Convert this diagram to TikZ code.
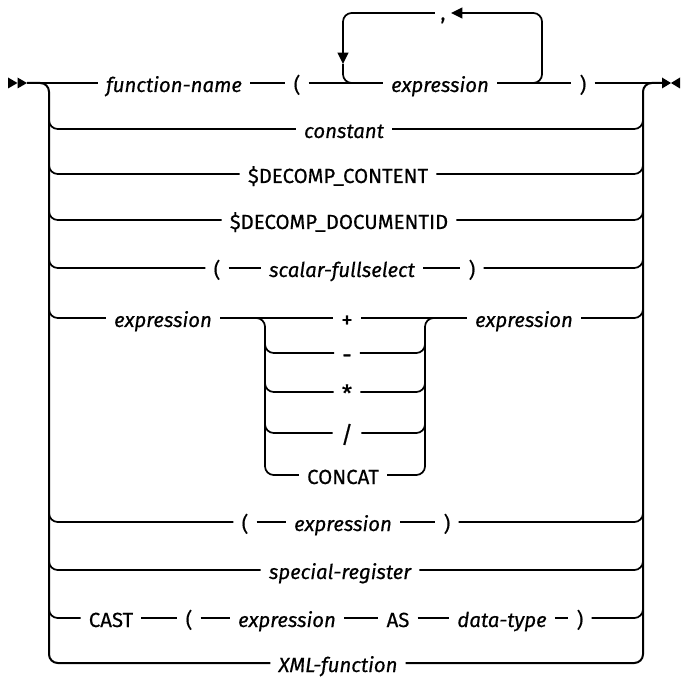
\documentclass[tikz,border=0pt]{standalone}
\usepackage{fontspec}
\setmainfont{Fira Sans}[FakeBold=0.5]
\usetikzlibrary{arrows.meta}
\begin{document}
\begin{tikzpicture}[x=0.75pt,y=-0.75pt,
  ln/.style={line width=1.3pt, rounded corners=6.5pt},
  rail/.style={line width=1.5pt, rounded corners=6.5pt},
  tx/.style={font=\fontsize{15.3}{18}\selectfont, inner xsep=6pt, inner ysep=0pt, text height=13.5pt, text depth=0pt},
  it/.style={tx, font=\fontsize{15.3}{18}\selectfont\itshape},
  op/.style={tx, font=\fontsize{17.5}{20}\selectfont, text height=14.5pt},
  arr/.style={-{Triangle[length=8.5pt,width=8pt]}},
]
\useasboundingbox (0,0) rectangle (682,677);
% rail coordinates
\coordinate (st) at (27,83);
\coordinate (en) at (662,83);
\coordinate (La) at (49,83);   \coordinate (Ra) at (643,83);
\coordinate (Lb) at (49,129);  \coordinate (Rb) at (643,129);
\coordinate (Lc) at (49,174);  \coordinate (Rc) at (643,174);
\coordinate (Ld) at (49,220);  \coordinate (Rd) at (643,220);
\coordinate (Le) at (49,268);  \coordinate (Re) at (643,268);
\coordinate (Lf) at (49,318);  \coordinate (Rf) at (643,318);
\coordinate (Lg) at (49,522);  \coordinate (Rg) at (643,522);
\coordinate (Lh) at (49,570);  \coordinate (Rh) at (643,570);
\coordinate (Li) at (49,618);  \coordinate (Ri) at (643,618);
\coordinate (Lj) at (49,663);  \coordinate (Rj) at (643,663);
% start / end markers
\fill (8,77.5) -- (17.5,83) -- (8,88.5) -- cycle;
\fill (17.5,77.5) -- (27,83) -- (17.5,88.5) -- cycle;
\fill (662,77.5) -- (671,83) -- (662,88.5) -- cycle;
\fill (680,77.5) -- (671,83) -- (680,88.5) -- cycle;
% row 1
\node[it] (fn) at (174,83) {function-name};
\node[tx] (lp1) at (297,83) {(};
\node[it] (ex1) at (440,83) {expression};
\node[tx] (rp1) at (583,83) {)};
\node[tx, text height=10.5pt, inner xsep=4pt] (cm) at (443,13) {,};
\coordinate (lpR) at (542,13);
\coordinate (dn) at (343,64);
\draw[ln] (st) -- (fn) -- (lp1) -- (ex1);
\draw[ln] (ex1) -- (rp1) -- (en);
\draw[ln,arr] (ex1.east) -| (lpR) -- (cm.east);
\draw[ln,arr] (cm.west) -| (dn);
\draw[ln] (dn) |- (ex1.west);
% rows 2-5
\node[it] (cst) at (344,129) {constant};
\node[tx] (dc) at (338,174) {\$DECOMP\_CONTENT};
\node[tx] (dd) at (339,220) {\$DECOMP\_DOCUMENTID};
\node[tx] (lp5) at (217,268) {(};
\node[it] (sfs) at (342,268) {scalar-fullselect};
\node[tx] (rp5) at (472,268) {)};
\draw[ln] ([yshift=12pt]Lb) |- (cst.west);
\draw[ln] (cst.east) -| ([yshift=12pt]Rb);
\draw[ln] ([yshift=12pt]Lc) |- (dc.west);
\draw[ln] (dc.east) -| ([yshift=12pt]Rc);
\draw[ln] ([yshift=12pt]Ld) |- (dd.west);
\draw[ln] (dd.east) -| ([yshift=12pt]Rd);
\draw[ln] ([yshift=12pt]Le) |- (lp5.west);
\draw[ln] (lp5) -- (sfs) -- (rp5);
\draw[ln] (rp5.east) -| ([yshift=12pt]Re);
% row 6 with operator block
\node[it] (e6a) at (163,318) {expression};
\node[it] (e6b) at (524,318) {expression};
\node[op] (plus) at (347,318) {+};
\node[op] (minus) at (347,353) {-};
\node[op] (star) at (347,392) {*};
\node[op] (slash) at (347,433) {/};
\node[tx] (concat) at (343,475) {CONCAT};
\coordinate (Sb) at (265,353); \coordinate (Mb) at (425,353);
\coordinate (Sc) at (265,392); \coordinate (Mc) at (425,392);
\coordinate (Sd) at (265,433); \coordinate (Md) at (425,433);
\coordinate (Se) at (265,475); \coordinate (Ma) at (425,318);
\draw[ln] ([yshift=12pt]Lf) |- (e6a.west);
\draw[ln] (e6a) -- (plus) -- (e6b);
\draw[ln] (e6b.east) -| ([yshift=12pt]Rf);
\draw[ln] (e6a.east) -| (Se) -- (concat.west);
\draw[ln] (concat.east) -| (Ma) -- (e6b.west);
\draw[ln] ([yshift=12pt]Sb) |- (minus.west);
\draw[ln] (minus.east) -| ([yshift=12pt]Mb);
\draw[ln] ([yshift=12pt]Sc) |- (star.west);
\draw[ln] (star.east) -| ([yshift=12pt]Mc);
\draw[ln] ([yshift=12pt]Sd) |- (slash.west);
\draw[ln] (slash.east) -| ([yshift=12pt]Md);
% rows 7-10
\node[tx] (lp7) at (245,522) {(};
\node[it] (ex7) at (343,522) {expression};
\node[tx] (rp7) at (447,522) {)};
\draw[ln] ([yshift=12pt]Lg) |- (lp7.west);
\draw[ln] (lp7) -- (ex7) -- (rp7);
\draw[ln] (rp7.east) -| ([yshift=12pt]Rg);
\node[it] (sr) at (340,570) {special-register};
\draw[ln] ([yshift=12pt]Lh) |- (sr.west);
\draw[ln] (sr.east) -| ([yshift=12pt]Rh);
\node[tx] (cast) at (111,618) {CAST};
\node[tx] (lp9) at (189,618) {(};
\node[it] (ex9) at (287,618) {expression};
\node[tx] (as9) at (398,618) {AS};
\node[it] (dt) at (502,618) {data-type};
\node[tx] (rp9) at (580,618) {)};
\draw[ln] ([yshift=12pt]Li) |- (cast.west);
\draw[ln] (cast) -- (lp9) -- (ex9) -- (as9) -- (dt) -- (rp9);
\draw[ln] (rp9.east) -| ([yshift=12pt]Ri);
\node[it] (xml) at (338,663) {XML-function};
% main rails
\draw[rail] (st) -| (Lj) -- (xml.west);
\draw[rail] (xml.east) -| (Ra) -- (en);
\end{tikzpicture}
\end{document}
